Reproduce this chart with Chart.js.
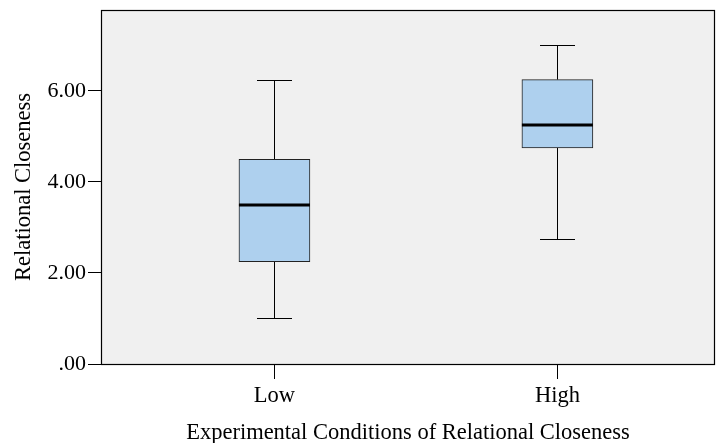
<!DOCTYPE html>
<html lang="en">
<head>
  <meta charset="UTF-8">
  <title>Relational Closeness</title>
  <script src="https://cdn.jsdelivr.net/npm/chart.js"></script>
  <style>
    body { margin: 0; background: #fff; }
  </style>
</head>
<body>
  <canvas id="myChart" width="717" height="443"></canvas>

  <script>
    // Dati del boxplot
    const categories = ['Low', 'High'];
    const whiskerMin = [1.00, 2.75];
    const quartile1 = [2.25, 4.75];
    const medians = [3.50, 5.25];
    const quartile3 = [4.50, 6.25];
    const whiskerMax = [6.25, 7.00];
    const yTicks = [0, 2, 4, 6];

    const serif = 'Liberation Serif';

    // sfondo grigio e cornice dell'area del grafico
    const plotFrame = {
      id: 'plotFrame',
      beforeDraw(chart) {
        const { ctx, chartArea: a } = chart;
        ctx.save();
        ctx.fillStyle = '#f0f0f0';
        ctx.fillRect(a.left, a.top, a.right - a.left, a.bottom - a.top);
        ctx.restore();
      },
      afterDraw(chart) {
        const { ctx, chartArea: a } = chart;
        ctx.save();
        ctx.strokeStyle = '#000';
        ctx.lineWidth = 1.2;
        const l = Math.round(a.left) + 0.5, t = Math.round(a.top) + 0.5;
        const r = Math.round(a.right) - 0.5, b = Math.round(a.bottom) + 0.5;
        ctx.strokeRect(l, t, r - l, b - t);
        ctx.restore();
      }
    };

    // baffi e mediana, disegnati con le scale del grafico
    const whiskers = {
      id: 'whiskers',
      beforeDatasetsDraw(chart) {
        const { ctx, scales: { x, y } } = chart;
        ctx.save();
        ctx.strokeStyle = '#000';
        ctx.lineWidth = 1;
        categories.forEach((c, i) => {
          const cx = Math.round(x.getPixelForValue(i + 1)) + 0.5;
          const yMin = Math.round(y.getPixelForValue(whiskerMin[i])) + 0.5;
          const yMax = Math.round(y.getPixelForValue(whiskerMax[i])) + 0.5;
          const yQ1 = y.getPixelForValue(quartile1[i]);
          const yQ3 = y.getPixelForValue(quartile3[i]);
          ctx.beginPath();
          ctx.moveTo(cx, yMin); ctx.lineTo(cx, yQ1);
          ctx.moveTo(cx, yQ3); ctx.lineTo(cx, yMax);
          ctx.moveTo(cx - 17.5, yMin); ctx.lineTo(cx + 17.5, yMin);
          ctx.moveTo(cx - 17.5, yMax); ctx.lineTo(cx + 17.5, yMax);
          ctx.stroke();
        });
        ctx.restore();
      },
      afterDatasetsDraw(chart) {
        const { ctx, scales: { x, y } } = chart;
        ctx.save();
        ctx.strokeStyle = '#000';
        ctx.lineWidth = 3;
        categories.forEach((c, i) => {
          const cx = x.getPixelForValue(i + 1);
          const ym = Math.round(y.getPixelForValue(medians[i]));
          ctx.beginPath();
          ctx.moveTo(cx - 35.5, ym); ctx.lineTo(cx + 35.5, ym);
          ctx.stroke();
        });
        ctx.restore();
      }
    };

    const ctx = document.getElementById('myChart').getContext('2d');
    const myChart = new Chart(ctx, {
      type: 'bar',
      data: {
        datasets: [{
          data: categories.map((c, i) => ({ x: i + 1, y: [quartile1[i], quartile3[i]] })),
          backgroundColor: '#aed0ee',
          borderColor: '#222',
          borderWidth: 1,
          borderSkipped: false,
          barThickness: 71
        }]
      },
      options: {
        responsive: false,
        animation: false,
        layout: { padding: { top: 10, right: 2, left: 0, bottom: 0 } },
        plugins: { legend: { display: false }, tooltip: { enabled: false } },
        scales: {
          x: {
            type: 'linear',
            offset: false,
            min: 0.387,
            max: 2.557,
            afterBuildTicks: s => { s.ticks = categories.map((c, i) => ({ value: i + 1 })); },
            afterFit: s => { s.height = 79; s.paddingLeft = 0; s.paddingRight = 0; },
            ticks: {
              callback: v => categories[v - 1],
              color: '#000',
              font: { family: serif, size: 22.5 },
              padding: 4,
              maxRotation: 0
            },
            grid: { drawOnChartArea: false, offset: false, color: '#000', tickLength: 15 },
            border: { display: false },
            title: {
              display: true,
              text: 'Experimental Conditions of Relational Closeness',
              color: '#000',
              font: { family: serif, size: 22.5, lineHeight: 1 },
              padding: { top: 0, bottom: -1 }
            }
          },
          y: {
            min: 0,
            max: 7.78,
            afterBuildTicks: s => { s.ticks = yTicks.map(v => ({ value: v })); },
            afterFit: s => { s.width = 101; s.paddingTop = 0; s.paddingBottom = 0; },
            ticks: {
              callback: v => v === 0 ? '.00' : v.toFixed(2),
              color: '#000',
              font: { family: serif, size: 22 },
              padding: 2
            },
            grid: { drawOnChartArea: false, color: '#000', tickLength: 13 },
            border: { display: false },
            title: {
              display: true,
              text: 'Relational Closeness',
              color: '#000',
              font: { family: serif, size: 22.5 },
              padding: { top: 11, bottom: 0 }
            }
          }
        }
      },
      plugins: [plotFrame, whiskers]
    });
  </script>
</body>
</html>
